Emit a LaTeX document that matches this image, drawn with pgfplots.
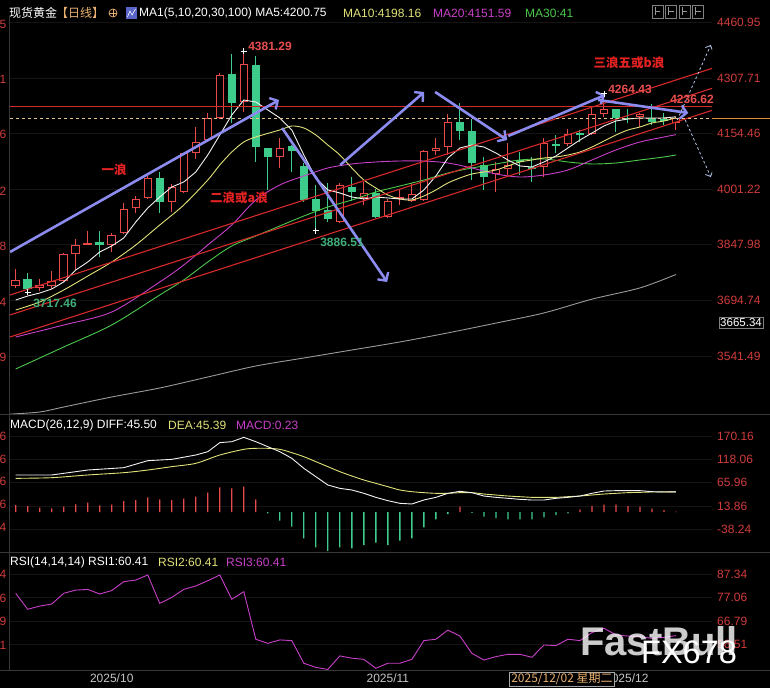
\documentclass[border=0pt]{standalone}
\usepackage{pgfplots}
\pgfplotsset{compat=1.18}
\usepackage{pgfplotstable}
\usepackage{fontspec}
\setmainfont{Liberation Sans}
\newfontfamily\cjk{Noto Sans CJK SC}
\usetikzlibrary{arrows.meta}

\definecolor{upred}{HTML}{E84A4A}
\definecolor{dngreen}{HTML}{3ECC8C}
\definecolor{tickred}{HTML}{D03C3C}
\definecolor{ma5c}{HTML}{F2F2F2}
\definecolor{ma10c}{HTML}{E2E27A}
\definecolor{ma20c}{HTML}{C840C8}
\definecolor{ma30c}{HTML}{4CC84C}
\definecolor{ma100c}{HTML}{9A9A9A}
\definecolor{wavec}{HTML}{8C8CF0}
\definecolor{chanc}{HTML}{D42A2A}
\definecolor{curc}{HTML}{E6C48C}
\definecolor{curext}{HTML}{E08A40}
\definecolor{sepc}{HTML}{383838}
\definecolor{gridc}{HTML}{141414}
\definecolor{labred}{HTML}{E84E4E}
\definecolor{labgreen}{HTML}{3FAE7A}
\definecolor{datec}{HTML}{E8B070}
\definecolor{xlabc}{HTML}{C4C4C4}
\definecolor{dashc}{HTML}{B4C4E8}
\definecolor{iconc}{HTML}{5A64C8}
\definecolor{wavetxt}{HTML}{E42222}

% candles: index, open, high, low, close
\pgfplotstableread{
i O H L C
0 3734.3 3781.2 3728.8 3750.8
2 3728.8 3753.6 3720.0 3737.1
3 3734.3 3776.5 3726.0 3747.1
4 3748.9 3824.5 3746.2 3822.5
5 3822.5 3863.0 3778.4 3846.5
6 3848.2 3885.1 3846.0 3853.7
8 3846.5 3881.2 3828.0 3874.1
9 3879.6 3964.0 3877.0 3947.4
10 3948.5 3982.4 3934.7 3973.3
11 3976.1 4046.7 3973.3 4031.2
13 3966.7 4015.5 3938.3 4008.1
14 3994.3 4101.8 3992.0 4100.2
15 4100.2 4171.8 4083.6 4130.5
16 4136.8 4212.1 4134.0 4196.6
17 4196.6 4322.4 4193.9 4316.0
19 4242.4 4381.29 4214.8 4346.4
22 4089.1 4141.5 4058.8 4113.9
27 3911.6 4019.1 3908.0 4012.8
29 3976.1 4021.8 3957.6 3989.9
31 3923.7 3973.3 3920.9 3968.6
32 3974.0 3999.0 3957.6 3979.0
33 3969.5 4017.4 3966.7 3987.9
34 3971.4 4109.3 3969.0 4106.5
35 4106.5 4141.5 4095.5 4115.6
36 4118.3 4207.7 4095.5 4185.6
40 4043.1 4077.0 3994.3 4056.0
41 4056.0 4127.7 4040.3 4067.9
44 4061.5 4141.5 4035.6 4127.7
46 4125.0 4166.3 4120.0 4152.5
48 4152.5 4224.2 4150.6 4207.7
49 4207.7 4264.43 4201.1 4221.5
52 4201.1 4210.4 4173.5 4207.7
55 4184.5 4199.4 4164.4 4196.6
}\upc

\pgfplotstableread{
i O H L C
1 3754.4 3771.0 3717.46 3725.2
7 3855.6 3886.8 3813.4 3846.5
12 4032.1 4048.6 3936.4 3965.9
18 4318.8 4373.9 4182.9 4239.7
20 4343.6 4368.4 4077.0 4116.7
21 4113.9 4115.0 3999.0 4089.1
23 4120.3 4122.0 4049.4 4107.3
24 4065.1 4072.6 3966.7 3971.4
25 3973.3 4012.8 3886.51 3941.9
26 3943.8 4019.1 3911.6 3918.2
28 4008.1 4035.6 3968.6 3994.3
30 3989.9 4000.9 3920.9 3923.7
37 4185.6 4238.0 4136.8 4162.5
38 4161.6 4193.9 4026.5 4074.2
39 4067.9 4090.8 3999.0 4035.6
42 4081.7 4104.6 4040.3 4076.2
43 4063.2 4090.8 4021.9 4056.0
45 4125.5 4150.6 4100.2 4120.0
47 4157.0 4164.4 4132.1 4150.6
50 4221.5 4223.0 4159.7 4196.6
51 4198.3 4221.5 4182.9 4193.9
53 4196.6 4236.62 4178.2 4187.3
54 4193.9 4210.4 4178.2 4189.0
}\dnc

% MACD histogram
\pgfplotstableread{
i m
0 15.8
1 13.5
2 9.8
3 8.3
4 12.0
5 17.3
6 21.1
7 15.1
8 16.6
9 24.8
10 27.1
11 33.1
12 28.6
13 27.1
14 30.1
15 34.6
16 43.7
17 55.7
18 53.4
19 57.2
20 28.6
37 12.0
47 6.0
48 13.5
49 16.6
50 16.6
51 13.5
52 12.0
53 7.5
54 4.5
55 0.8
}\macdpos

\pgfplotstableread{
i m
21 -3.0
22 -19.6
23 -33.1
24 -59.5
25 -79.8
26 -88.0
27 -79.8
28 -82.0
29 -74.5
30 -69.3
31 -74.5
32 -64.7
33 -59.5
34 -34.6
35 -16.6
36 -4.5
38 -2.0
39 -10.5
40 -14.0
41 -16.6
42 -16.6
43 -16.6
44 -12.0
45 -7.0
46 -3.0
}\macdneg

\pgfplotsset{
  panel/.style={
    scale only axis, width=702pt, xmin=-0.475, xmax=58,
    axis line style={draw=none}, xtick=\empty, major tick length=0pt,
    yticklabel pos=right,
    yticklabel style={font=\fontsize{12}{13}\selectfont, text=tickred, anchor=west, inner sep=0pt, xshift=5pt},
    ymajorgrids, grid style={gridc, line width=0.6pt},
  },
  wave/.style={wavec, line width=2.6pt, -{Straight Barb[length=6pt,width=13pt,line width=2.4pt]}},
}

\begin{document}
\begin{tikzpicture}[x=1pt,y=1pt]
\fill[black] (0,0) rectangle (770,688);

% ---------------- price panel ----------------
\begin{axis}[panel, at={(10pt,274pt)}, anchor=south west, height=397pt,
  ymin=3381.4, ymax=4475.9,
  ytick={3541.49,3694.74,3847.98,4001.22,4154.46,4307.71,4460.95},
  yticklabels={3541.49,3694.74,3847.98,4001.22,4154.46,4307.71,4460.95}]

% wicks and bodies
\addplot[upred, line width=1pt, quiver={u=0, v=\thisrow{H}-\thisrow{L}}] table[x=i, y=L] {\upc};
\addplot[dngreen, line width=1pt, quiver={u=0, v=\thisrow{H}-\thisrow{L}}] table[x=i, y=L] {\dnc};
\addplot[upred, line width=8.5pt, quiver={u=0, v=\thisrow{C}-\thisrow{O}}] table[x=i, y=O] {\upc};
\addplot[black, line width=6.5pt, quiver={u=0, v={max(\thisrow{C}-\thisrow{O}-5.5,0)}}] table[x=i, y expr=\thisrow{O}+2.75] {\upc};
\addplot[dngreen, line width=8.5pt, quiver={u=0, v=\thisrow{O}-\thisrow{C}}] table[x=i, y=C] {\dnc};

% moving averages
\addplot[ma100c, line width=0.9pt, smooth] coordinates {
(-0.5,3381) (2,3386.9) (4,3400.7) (8,3428.3) (12,3453.1) (16,3483.4) (20,3513.7)
(24,3535.8) (28,3557.8) (32,3580.0) (36,3605.0) (40,3632.0) (44,3660.0) (48,3698.0)
(52,3729.0) (55,3766.0)};
\addplot[ma30c, line width=0.9pt, smooth] coordinates {
(0,3505.5) (4,3566.1) (8,3626.8) (12,3709.5) (14,3751.0) (16,3800.5) (18,3844.6)
(20,3872.2) (22,3899.7) (24,3927.2) (26,3952.1) (28,3971.4) (30,3993.5) (32,4010.0)
(34,4026.5) (36,4045.8) (38,4059.6) (40,4070.7) (42,4081.7) (44,4084.5) (46,4076.2)
(48,4070.7) (50,4073.4) (52,4081.7) (54,4090.0) (55,4095.5)};
\addplot[ma20c, line width=0.9pt, smooth] coordinates {
(0,3593.7) (4,3626.8) (8,3662.6) (12,3745.3) (14,3792.2) (16,3847.3) (18,3902.5)
(20,3971.4) (22,4012.8) (24,4037.6) (26,4059.6) (28,4070.7) (30,4076.2) (32,4078.9)
(34,4078.9) (36,4073.4) (38,4059.6) (40,4043.1) (42,4034.8) (44,4040.3) (46,4054.1)
(48,4081.7) (50,4109.3) (52,4131.3) (54,4145.1) (55,4151.6)};
\addplot[ma10c, line width=0.9pt, smooth] coordinates {
(0,3668.1) (2,3690.2) (4,3723.3) (6,3761.7) (8,3800.5) (10,3847.3) (12,3902.5)
(14,3957.6) (16,4026.5) (17,4067.9) (18,4103.7) (19,4131.3) (20,4145.1) (22,4164.4)
(23,4175.4) (24,4169.9) (25,4150.6) (26,4123.0) (27,4095.5) (28,4059.6) (29,4026.5)
(30,4004.5) (31,3985.2) (32,3974.2) (33,3971.4) (34,3982.4) (35,3999.0) (36,4018.3)
(37,4032.1) (38,4043.1) (39,4048.6) (40,4054.1) (41,4065.2) (42,4076.2) (43,4081.7)
(44,4087.2) (45,4090.0) (46,4095.5) (47,4103.7) (48,4117.5) (49,4134.0) (50,4150.6)
(51,4164.4) (52,4172.7) (53,4183.7) (54,4189.2) (55,4198.2)};
\addplot[ma5c, line width=0.9pt] coordinates {
(0,3695.7) (1,3706.7) (2,3715.0) (3,3726.0) (4,3745.4) (5,3778.4) (6,3800.5)
(7,3828.0) (8,3844.6) (9,3866.7) (10,3910.7) (11,3949.3) (12,3979.7) (13,4007.2)
(14,4021.0) (15,4048.6) (16,4095.5) (17,4150.6) (18,4205.7) (19,4247.1) (20,4241.6)
(21,4219.5) (22,4197.5) (23,4164.4) (24,4095.5) (25,4032.1) (26,3999.0) (27,3990.7)
(28,3979.7) (29,3974.2) (30,3979.7) (31,3976.9) (32,3974.2) (33,3974.2) (34,3999.0)
(35,4037.6) (36,4087.2) (37,4114.8) (38,4123.0) (39,4117.5) (40,4101.0) (41,4081.7)
(42,4065.2) (43,4062.4) (44,4076.2) (45,4092.7) (46,4114.8) (47,4136.8) (48,4156.1)
(49,4175.5) (50,4189.2) (51,4194.7) (52,4197.5) (53,4197.5) (54,4197.5) (55,4200.8)};

% channel, resistance and last price
\addplot[chanc, line width=1.1pt] coordinates {(-0.475,3709.5) (58.1,4335.3)};
\addplot[chanc, line width=1.1pt] coordinates {(-0.475,3654.4) (58.1,4280.2)};
\addplot[chanc, line width=1.1pt] coordinates {(-0.475,3593.7) (58.1,4219.5)};
\addplot[chanc, line width=1.1pt] coordinates {(-0.475,4228.6) (58.1,4228.6)};
\addplot[curc, line width=0.8pt, dash pattern=on 3pt off 3pt] coordinates {(-0.475,4196.6) (58.1,4196.6)};

% extreme markers
\addplot[only marks, mark=+, mark size=3pt, white, line width=0.8pt] coordinates {
(19,4381.29) (25,3886.51) (1,3717.46) (49,4264.43)};

% wave arrows
\addplot[wave] coordinates {(-0.475,3828.0) (21.94,4247.1)};
\addplot[wave] coordinates {(22.19,4169.9) (30.94,3745.3)};
\addplot[wave] coordinates {(27.03,4067.9) (34.03,4269.2)};
\addplot[wave] coordinates {(34.94,4269.2) (40.94,4136.8)};
\addplot[wave] coordinates {(41.03,4147.8) (49.11,4260.9)};
\addplot[wave] coordinates {(48.52,4247.1) (56.03,4211.3)};
\addplot[dashc, line width=0.8pt, dash pattern=on 2.5pt off 2.5pt, -{Straight Barb[length=4pt,width=8pt]}] coordinates {(55.11,4192) (57.9,4398.7)};
\addplot[dashc, line width=0.8pt, dash pattern=on 2.5pt off 2.5pt, -{Straight Barb[length=4pt,width=8pt]}] coordinates {(55.77,4192) (57.9,4034.8)};
\end{axis}

% ---------------- MACD panel ----------------
\begin{axis}[panel, at={(10pt,136pt)}, anchor=south west, height=138pt,
  ymin=-90.3, ymax=221.3,
  ytick={-38.24,13.86,65.96,118.06,170.16},
  yticklabels={-38.24,13.86,65.96,118.06,170.16}]
\addplot[ybar, bar width=1.3pt, bar shift=0pt, fill=upred, draw=none] table[x=i, y=m] {\macdpos};
\addplot[ybar, bar width=1.3pt, bar shift=0pt, fill=dngreen, draw=none] table[x=i, y=m] {\macdneg};
\addplot[ma10c, line width=0.9pt, smooth] coordinates {
(0,76.0) (3,77.5) (6,83.6) (9,88.8) (11,94.8) (13,102.4) (15,109.9) (17,128.7)
(19,141.5) (20,143.8) (21,143.8) (22,141.5) (23,134.0) (24,124.9) (25,113.7)
(26,102.4) (27,91.1) (28,81.3) (29,72.3) (30,64.7) (31,57.2) (32,49.7) (33,45.9)
(34,43.7) (35,42.2) (36,42.2) (37,43.7) (38,43.7) (39,40.6) (40,38.4) (41,36.1)
(42,34.6) (43,33.1) (44,33.1) (45,33.1) (46,34.6) (47,36.1) (48,38.4) (49,40.6)
(50,42.2) (51,43.7) (52,44.4) (53,45.2) (54,45.3) (55,45.4)};
\addplot[ma5c, line width=0.9pt] coordinates {
(0,83.6) (3,83.6) (6,94.8) (9,100.1) (11,115.9) (13,118.9) (15,128.7) (16,136.2)
(17,156.6) (18,158.8) (19,168.6) (20,158.8) (21,147.5) (22,136.2) (23,121.2)
(24,98.6) (25,79.8) (26,61.0) (27,53.4) (28,49.7) (29,42.2) (30,33.1) (31,25.6)
(32,19.6) (33,18.1) (34,27.1) (35,33.1) (36,42.2) (37,46.7) (38,43.7) (39,36.1)
(40,33.1) (41,30.9) (42,28.6) (43,27.1) (44,27.1) (45,30.9) (46,33.1) (47,36.1)
(48,42.2) (49,47.4) (50,48.2) (51,48.2) (52,48.2) (53,45.9) (54,45.2) (55,45.5)};
\end{axis}

% ---------------- RSI panel ----------------
\begin{axis}[panel, at={(10pt,18pt)}, anchor=south west, height=118pt,
  ymin=45.34, ymax=96.97,
  ytick={56.51,66.79,77.06,87.34},
  yticklabels={56.51,66.79,77.06,87.34},
  xtick={8,31,50.9}, xticklabels={2025/10,2025/11,2025/12},
  xticklabel style={font=\fontsize{12}{13}\selectfont, text=xlabc, inner sep=0pt, yshift=-4pt}]
\addplot[ma20c, line width=0.9pt] coordinates {
(0,78.9) (1,71.9) (2,73.3) (3,74.2) (4,78.9) (5,80.3) (6,80.6) (7,78.6) (8,80.1)
(9,84.0) (10,84.7) (11,86.9) (12,74.5) (13,77.1) (14,80.6) (15,82.1) (16,84.4)
(17,86.9) (18,76.3) (19,79.6) (20,58.8) (21,57.0) (22,58.5) (23,58.2) (24,48.3)
(25,46.5) (26,45.6) (27,51.5) (28,50.5) (29,50.0) (30,46.1) (31,48.3) (32,48.3)
(33,50.0) (34,58.2) (35,58.8) (36,62.8) (37,60.2) (38,52.6) (39,49.7) (40,51.2)
(41,52.2) (42,52.2) (43,50.9) (44,56.3) (45,56.0) (46,58.8) (47,58.2) (48,61.7)
(49,63.6) (50,60.7) (51,60.2) (52,59.9) (53,59.2) (54,59.6) (55,60.4)};
\end{axis}

% ---------------- frame ----------------
\draw[sepc, line width=0.8pt] (0,274) -- (770,274);
\draw[sepc, line width=0.8pt] (0,136) -- (770,136);
\draw[sepc, line width=0.6pt] (0,18) -- (770,18);
\draw[sepc, line width=0.6pt] (9.5,18) -- (9.5,671);
\draw[curext, line width=0.8pt] (712,569.3) -- (770,569.3);

% cut-off left scale
\begin{scope}[font=\fontsize{12}{13}\selectfont, tickred]
\foreach \t/\yy in {5/664,1/609,6/554,2/497,8/442,4/386,9/331,
                    6/252,6/229,6/207,6/184,4/161,
                    4/114,6/90,9/67,1/43}
  \node[anchor=east, inner sep=0pt] at (6.5,\yy) {\t};
\end{scope}

% header lines
\node[anchor=west, inner sep=0pt, white, font=\cjk\fontsize{12}{13}\selectfont] at (9,675) {现货黄金};
\node[anchor=west, inner sep=0pt, text=datec, font=\cjk\fontsize{12}{13}\selectfont] at (56,675) {【日线】};
\draw[datec, line width=0.7pt] (113,675) circle (4);
\draw[datec, line width=0.7pt] (109,675) -- (117,675) (113,671) -- (113,679);
\fill[iconc] (126,669) rectangle (137,681);
\draw[white, line width=0.6pt] (127.5,671) -- (130,677) -- (132,673) -- (135.5,679);
\node[anchor=west, inner sep=0pt, white, font=\fontsize{12}{13}\selectfont] at (139,675) {MA1(5,10,20,30,100) MA5:4200.75};
\node[anchor=west, inner sep=0pt, text=ma10c, font=\fontsize{12}{13}\selectfont] at (343,675) {MA10:4198.16};
\node[anchor=west, inner sep=0pt, text=ma20c, font=\fontsize{12}{13}\selectfont] at (433,675) {MA20:4151.59};
\node[anchor=west, inner sep=0pt, text=ma30c, font=\fontsize{12}{13}\selectfont] at (525,675) {MA30:41};
\foreach \bx in {652,665.5,679,692.5}{
  \draw[gray, line width=0.6pt, fill=black] (\bx,670) rectangle (\bx+11,683);
  \draw[gray!80, line width=0.6pt] (\bx+3,672.5) -- (\bx+3,680.5) (\bx+3,676.5) -- (\bx+8,676.5);
}

\node[anchor=west, inner sep=0pt, white, font=\fontsize{12}{13}\selectfont] at (10,263) {MACD(26,12,9) DIFF:45.50};
\node[anchor=west, inner sep=0pt, text=ma10c, font=\fontsize{12}{13}\selectfont] at (168,263) {DEA:45.39};
\node[anchor=west, inner sep=0pt, text=ma20c, font=\fontsize{12}{13}\selectfont] at (236,263) {MACD:0.23};
\node[anchor=west, inner sep=0pt, white, font=\fontsize{12}{13}\selectfont] at (10,126) {RSI(14,14,14) RSI1:60.41};
\node[anchor=west, inner sep=0pt, text=ma10c, font=\fontsize{12}{13}\selectfont] at (158,126) {RSI2:60.41};
\node[anchor=west, inner sep=0pt, text=ma20c, font=\fontsize{12}{13}\selectfont] at (226,126) {RSI3:60.41};

% annotations
\begin{scope}[font=\cjk\bfseries\fontsize{12.5}{14}\selectfont, text=wavetxt]
\node at (114,518) {一浪};
\node at (239,490) {二浪或a浪};
\node at (629,625) {三浪五或b浪};
\end{scope}
\begin{scope}[font=\bfseries\fontsize{12}{13}\selectfont]
\node[text=labred] at (270,642) {4381.29};
\node[text=labgreen] at (342,446) {3886.51};
\node[text=labgreen] at (55,385) {3717.46};
\node[text=labred] at (630,599) {4264.43};
\node[text=labred] at (692,589) {4236.62};
\end{scope}

% crosshair readouts
\node[draw=gray, fill=black, text=white, inner sep=1.5pt, font=\fontsize{11.5}{12}\selectfont] at (741,365) {3665.34};
\node[draw=gray!70, fill=black, text=datec, inner xsep=2pt, inner ysep=1pt, font=\cjk\fontsize{12}{13}\selectfont] at (562,9) {2025/12/02 星期二};

% watermark
\node[anchor=base west, inner sep=0pt, text=white, opacity=0.8, font=\bfseries\fontsize{40}{40}\selectfont] at (580,33) {FastBull};
\node[anchor=base west, inner sep=0pt, text=white, font=\fontsize{32.5}{33}\selectfont] at (641,25) {FX678};

\pgfresetboundingbox
\useasboundingbox (0,0) rectangle (770,688);
\end{tikzpicture}
\end{document}
